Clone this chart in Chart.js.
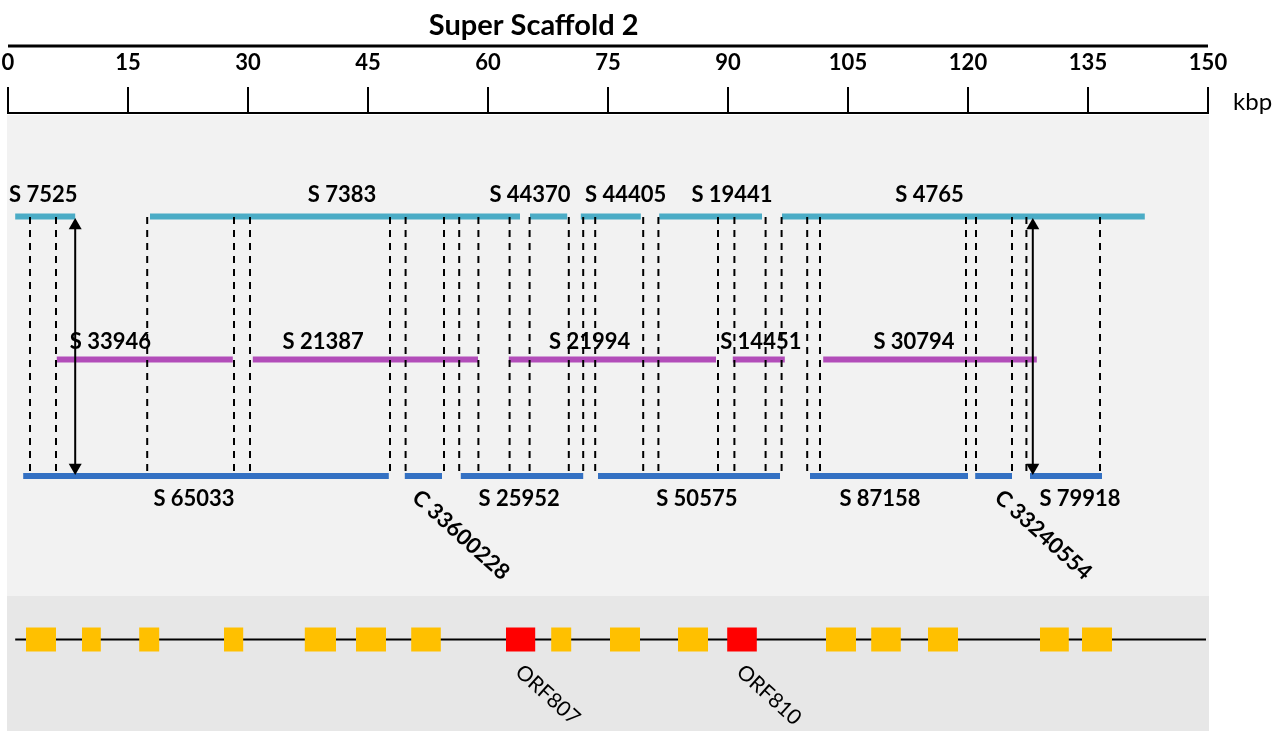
<!DOCTYPE html>
<html>
<head>
<meta charset="utf-8">
<title>Super Scaffold 2</title>
<script src="https://cdn.jsdelivr.net/npm/chart.js@4.4.1/dist/chart.umd.min.js"></script>
<style>
  html, body { margin: 0; padding: 0; background: #ffffff; }
  canvas { display: block; }
</style>
</head>
<body>
<canvas id="scaffold" width="1278" height="731"></canvas>
<script>
// ---- Scaffold map data (all positions in kbp) ----
const kbpTicks = [0, 15, 30, 45, 60, 75, 90, 105, 120, 135, 150];

// Upper assembly track
const topNames   = ['S 7525', 'S 7383', 'S 44370', 'S 44405', 'S 19441', 'S 4765'];
const topStart   = [0.9, 17.75, 65.25, 71.6, 81.4, 96.75];
const topEnd     = [8.4, 64.0, 69.9, 79.1, 94.25, 142.1];
const topLabelAt = [4.4, 41.75, 65.25, 77.2, 90.5, 115.2];

// Middle assembly track
const midNames   = ['S 33946', 'S 21387', 'S 21994', 'S 14451', 'S 30794'];
const midStart   = [6.1, 30.6, 62.6, 90.6, 101.9];
const midEnd     = [28.1, 58.75, 88.5, 97.1, 128.6];
const midLabelAt = [12.8, 39.4, 72.7, 94.1, 113.25];

// Lower assembly track (C = contig, S = scaffold)
const botNames   = ['S 65033', 'C 33600228', 'S 25952', 'S 50575', 'S 87158', 'C 33240554', 'S 79918'];
const botStart   = [1.9, 49.6, 56.6, 73.75, 100.25, 120.9, 127.75];
const botEnd     = [47.6, 54.25, 71.9, 96.5, 120.0, 125.5, 136.75];
const botLabelAt = [23.25, 56.6, 63.9, 86.1, 109.0, 129.4, 134.0];

// Junctions shared between tracks
const junctions = [2.75, 6.0, 17.4, 28.25, 30.25, 47.75, 49.7, 54.5, 56.4, 58.8, 62.7, 65.2,
                   70.1, 71.9, 73.4, 79.4, 81.3, 88.75, 90.8, 94.7, 96.7, 99.9, 101.5,
                   119.75, 121.0, 125.5, 127.3, 136.5];

// Inversions spanning the upper and lower tracks
const inversions = [8.4, 128.1];

// Open reading frames on the super scaffold
const orfStart = [2.25, 9.25, 16.4, 27.0, 37.1, 43.5, 50.4, 62.25, 67.9, 75.25, 83.75, 89.9,
                  102.25, 107.9, 115.0, 129.0, 134.25];
const orfEnd   = [6.0, 11.6, 18.9, 29.4, 41.0, 47.25, 54.1, 65.9, 70.4, 79.0, 87.5, 93.6,
                  106.0, 111.6, 118.75, 132.6, 138.0];
const orfNames = ['', '', '', '', '', '', '', 'ORF807', '', '', '', 'ORF810', '', '', '', '', ''];
const backbone = [0.9, 149.75];

// ---- Layout (vertical positions, px below the axis line) ----
const ROW    = { top: 103.5, mid: 246.5, bot: 363, orf: 526.5 };
const DASH   = { from: 104, to: 360 };
const ARROW  = { up: 105, down: 362, head: 7.5 };
const PANEL  = { upper: [2, 483], lower: [483, 618] };
const LABELY = { top: 82, mid: 229, bot: 386, contig: 422, orf: 582 };

const COLORS = {
  top: '#4bacc6', mid: '#b24db9', bot: '#3471c3',
  orf: '#ffc000', orfNamed: '#ff0000',
  panelUpper: '#f2f2f2', panelLower: '#e7e7e7', ink: '#000000'
};

// one straight stroke per block, drawn on the kbp / track scales
const stroke = (from, to, row, color, width, order) => ({
  type: 'scatter', showLine: true, order,
  data: [{ x: from, y: row }, { x: to, y: row }],
  borderColor: color, borderWidth: width, borderCapStyle: 'butt', pointRadius: 0
});

const datasets = [
  stroke(backbone[0], backbone[1], ROW.orf, COLORS.ink, 2, 9),
  ...orfStart.map((s, i) => stroke(s, orfEnd[i], ROW.orf,
      orfNames[i] ? COLORS.orfNamed : COLORS.orf, 24, 5)),
  ...topStart.map((s, i) => stroke(s, topEnd[i], ROW.top, COLORS.top, 6, 5)),
  ...midStart.map((s, i) => stroke(s, midEnd[i], ROW.mid, COLORS.mid, 6, 5)),
  ...botStart.map((s, i) => stroke(s, botEnd[i], ROW.bot, COLORS.bot, 6, 5)),
  ...junctions.map(v => ({
    type: 'scatter', showLine: true, order: 2,
    data: [{ x: v, y: DASH.from }, { x: v, y: DASH.to }],
    borderColor: COLORS.ink, borderWidth: 2, borderDash: [7, 6], pointRadius: 0
  })),
  ...inversions.map(v => ({
    type: 'scatter', showLine: true, order: 1,
    data: [{ x: v, y: ARROW.up + ARROW.head }, { x: v, y: ARROW.down - ARROW.head }],
    borderColor: COLORS.ink, borderWidth: 2,
    pointStyle: 'triangle', pointRadius: ARROW.head, pointRotation: [0, 180],
    pointBackgroundColor: COLORS.ink, pointBorderColor: COLORS.ink, pointBorderWidth: 0
  }))
];

function drawText(ctx, str, x, y, font, angle, align) {
  ctx.save();
  ctx.translate(x, y);
  if (angle) ctx.rotate(angle * Math.PI / 180);
  ctx.font = font;
  ctx.fillStyle = COLORS.ink;
  ctx.textAlign = align || 'center';
  ctx.textBaseline = 'middle';
  ctx.fillText(str, 0, 0);
  ctx.restore();
}

const BOLD = 'bold 22px Lato';

const scaffoldDecor = {
  id: 'scaffoldDecor',
  beforeDatasetsDraw(chart) {
    const { ctx, scales: { x, y } } = chart;
    ctx.save();
    const band = (range, color) => {
      const y0 = y.getPixelForValue(range[0]);
      const y1 = y.getPixelForValue(range[1]);
      ctx.fillStyle = color;
      ctx.fillRect(x.left - 1, y0, x.right - x.left + 2, y1 - y0);
    };
    band(PANEL.upper, COLORS.panelUpper);
    band(PANEL.lower, COLORS.panelLower);
    ctx.restore();
  },
  afterDatasetsDraw(chart) {
    const { ctx, scales: { x, y } } = chart;
    topNames.forEach((n, i) =>
      drawText(ctx, n, x.getPixelForValue(topLabelAt[i]), y.getPixelForValue(LABELY.top), BOLD));
    midNames.forEach((n, i) =>
      drawText(ctx, n, x.getPixelForValue(midLabelAt[i]), y.getPixelForValue(LABELY.mid), BOLD));
    botNames.forEach((n, i) => {
      const contig = n.startsWith('C');
      drawText(ctx, n, x.getPixelForValue(botLabelAt[i]),
               y.getPixelForValue(contig ? LABELY.contig : LABELY.bot), BOLD, contig ? 42 : 0);
    });
    orfNames.forEach((n, i) => {
      if (!n) return;
      const cx = x.getPixelForValue((orfStart[i] + orfEnd[i]) / 2) + 27;
      drawText(ctx, n, cx, y.getPixelForValue(LABELY.orf), '21px Lato', 42);
    });
  },
  afterDraw(chart) {
    const { ctx, scales: { x } } = chart;
    // heavy rule above the kbp ruler
    ctx.save();
    ctx.strokeStyle = COLORS.ink;
    ctx.lineWidth = 3;
    ctx.beginPath();
    ctx.moveTo(x.left, x.top);
    ctx.lineTo(x.right, x.top);
    ctx.stroke();
    ctx.restore();
    drawText(ctx, 'Super Scaffold 2', x.getPixelForValue(65.7), x.top - 20, 'bold 29px Lato');
    drawText(ctx, 'kbp', x.right + 25, x.bottom - 11, '24px Lato', 0, 'left');
  }
};

function build() {
  new Chart(document.getElementById('scaffold'), {
    type: 'scatter',
    data: { datasets },
    options: {
      responsive: false,
      animation: false,
      events: [],
      layout: { padding: { top: 46, left: 8, right: 70, bottom: 0 }, autoPadding: false },
      plugins: { legend: { display: false }, tooltip: { enabled: false }, title: { display: false } },
      scales: {
        x: {
          type: 'linear', position: 'top', min: 0, max: 150,
          afterBuildTicks: s => { s.ticks = kbpTicks.map(v => ({ value: v })); },
          afterFit: s => { s.height = 67; },
          ticks: {
            color: COLORS.ink, padding: 0, maxRotation: 0, autoSkip: false,
            font: { family: 'Lato', size: 22, weight: 'bold', lineHeight: 2.15 },
            callback: v => String(v)
          },
          grid: {
            drawOnChartArea: false, drawTicks: true, tickLength: 26,
            color: COLORS.ink, lineWidth: 2
          },
          border: { display: true, color: COLORS.ink, width: 2 }
        },
        y: {
          type: 'linear', display: false, reverse: true, min: 0, max: 618
        }
      }
    },
    plugins: [scaffoldDecor]
  });
}

const fontsReady = document.fonts
  ? Promise.all([document.fonts.load('bold 22px Lato'), document.fonts.load('22px Lato')])
  : Promise.resolve();
fontsReady.catch(() => {}).then(build);
</script>
</body>
</html>
